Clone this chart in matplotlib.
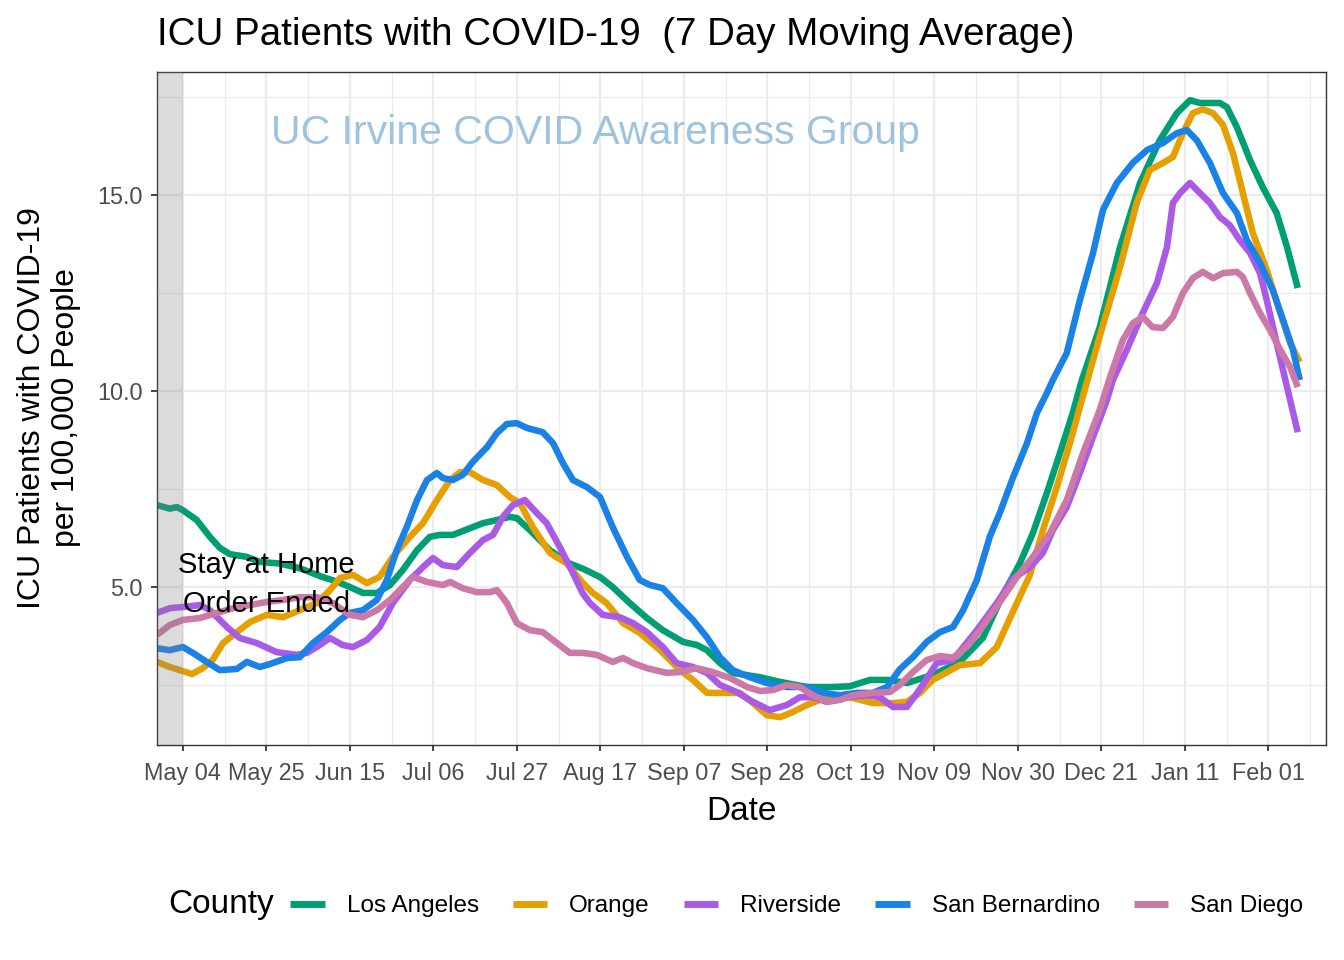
import matplotlib
matplotlib.use("Agg")
import matplotlib.pyplot as plt
from matplotlib.lines import Line2D

plt.rcParams['font.family'] = ['Liberation Sans', 'DejaVu Sans']

# x values: days since 2020-05-04
tick_days = [0, 21, 42, 63, 84, 105, 126, 147, 168, 189, 210, 231, 252, 273]
tick_labels = ["May 04", "May 25", "Jun 15", "Jul 06", "Jul 27", "Aug 17", "Sep 07",
               "Sep 28", "Oct 19", "Nov 09", "Nov 30", "Dec 21", "Jan 11", "Feb 01"]
y_ticks = [5.0, 10.0, 15.0]

counties = ["Los Angeles", "Orange", "Riverside", "San Bernardino", "San Diego"]
colors = ["#009E73", "#E69F00", "#A95BE8", "#1A82E6", "#CC79A7"]

la_days = [-6.5, -3.3, -1.5, 0, 3.5, 6.8, 9.3, 11.8, 16.1, 19.4, 24.4, 29.4, 35.0, 39.0, 42.0,
           45.3, 48.8, 52.1, 55.3, 58.9, 62.1, 64.6, 67.9, 72.2, 75.5, 79.0, 82.2, 84.0, 87.3,
           92.3, 97.3, 101.0, 105.0, 108.1, 112.4, 116.7, 120.7, 125.8, 129.3, 131.8, 135.1,
           138.3, 145.1, 150.2, 156.9, 163.5, 167.8, 172.8, 177.1, 182.1, 188.6, 195.4, 201.2,
           206.2, 210.5, 213.8, 217.3, 220.6, 223.8, 226.1, 230.6, 235.7, 240.7, 245.7, 250.0,
           253.3, 255.8, 260.8, 262.6, 265.1, 268.4, 271.6, 275.1, 277.7, 280.4]
la_vals = [7.09, 7.00, 7.04, 6.96, 6.71, 6.28, 6.00, 5.84, 5.77, 5.64, 5.60, 5.48, 5.26, 5.13, 5.00,
           4.85, 4.85, 5.05, 5.43, 5.94, 6.28, 6.33, 6.33, 6.50, 6.63, 6.71, 6.79, 6.76, 6.45,
           5.94, 5.60, 5.45, 5.25, 5.00, 4.59, 4.21, 3.90, 3.60, 3.52, 3.39, 3.06,
           2.81, 2.70, 2.58, 2.45, 2.45, 2.47, 2.63, 2.63, 2.55, 2.76, 3.09, 3.70,
           4.80, 5.60, 6.38, 7.40, 8.42, 9.44, 10.28, 11.63, 13.67, 15.30, 16.40, 17.09,
           17.42, 17.35, 17.35, 17.24, 16.73, 15.89, 15.20, 14.54, 13.67, 12.63]

or_days = [-6.5, -3.3, -0.75, 2.3, 5.0, 7.5, 10.1, 13.6, 16.9, 21.1, 25.2, 29.4, 33.7, 37.0,
           39.5, 42.8, 46.3, 49.5, 52.8, 57.1, 60.4, 63.9, 67.2, 69.7, 72.2, 75.5, 79.0, 82.2,
           84.8, 88.0, 92.3, 96.6, 100.6, 103.1, 106.6, 110.7, 114.9, 120.0, 125.0, 128.3,
           131.8, 135.8, 140.1, 143.4, 146.9, 150.2, 153.4, 156.9, 160.2, 164.5, 168.5, 173.5,
           178.6, 182.1, 185.4, 188.6, 192.2, 195.4, 200.5, 204.7, 208.8, 213.0, 216.3, 219.8,
           223.1, 226.1, 230.6, 235.7, 239.9, 243.2, 246.5, 249.0, 251.5, 254.0, 256.5, 259.1,
           261.6, 264.1, 266.6, 269.1, 272.6, 276.0, 278.5, 280.9]
or_vals = [3.09, 2.96, 2.88, 2.78, 2.93, 3.14, 3.57, 3.85, 4.11, 4.29, 4.23, 4.41, 4.59, 4.92,
           5.23, 5.31, 5.10, 5.26, 5.77, 6.28, 6.63, 7.22, 7.73, 7.93, 7.93, 7.73, 7.60, 7.30,
           7.14, 6.53, 5.87, 5.60, 5.10, 4.85, 4.59, 4.08, 3.83, 3.39, 2.88, 2.63,
           2.30, 2.30, 2.30, 2.04, 1.73, 1.68, 1.81, 1.99, 2.12, 2.19, 2.17, 2.04,
           2.04, 2.07, 2.30, 2.63, 2.83, 3.01, 3.06, 3.47, 4.38, 5.30, 6.45, 7.55,
           8.67, 9.77, 11.40, 13.16, 14.80, 15.64, 15.82, 15.97, 16.58, 17.09, 17.19, 17.09,
           16.79, 16.07, 15.05, 14.03, 13.09, 11.99, 11.22, 10.74]

rv_days = [-6.5, -3.3, 0, 4.3, 6.8, 11.1, 14.3, 18.6, 23.6, 28.7, 31.2, 33.7, 37.0, 40.2, 42.8,
           46.3, 49.5, 52.8, 57.1, 60.4, 62.9, 65.4, 68.9, 72.2, 75.5, 78.0, 80.5, 83.0, 86.0,
           89.0, 91.5, 94.8, 98.1, 100.5, 102.4, 105.6, 109.9, 113.2, 116.7, 120.7, 124.2,
           128.3, 131.8, 135.1, 139.3, 143.4, 147.6, 151.9, 155.2, 158.4, 162.0, 167.0, 172.0,
           175.3, 178.6, 182.1, 185.4, 189.6, 193.7, 199.7, 204.7, 208.8, 213.0, 216.3, 218.8,
           222.3, 225.6, 228.9, 232.4, 233.9, 237.4, 241.4, 245.0, 247.5, 249.0, 250.8, 253.3,
           255.8, 258.3, 260.8, 263.3, 265.8, 268.4, 270.9, 272.6, 275.1, 277.7, 280.4]
rv_vals = [4.34, 4.46, 4.49, 4.54, 4.41, 3.98, 3.70, 3.57, 3.34, 3.27, 3.32, 3.47, 3.70, 3.52, 3.47,
           3.65, 3.98, 4.59, 5.18, 5.51, 5.74, 5.56, 5.51, 5.87, 6.20, 6.33, 6.79, 7.09, 7.22,
           6.89, 6.63, 6.02, 5.36, 4.85, 4.59, 4.29, 4.23, 4.08, 3.85, 3.47, 3.06,
           2.96, 2.81, 2.50, 2.32, 2.07, 1.86, 1.99, 2.19, 2.19, 2.07, 2.19, 2.24,
           2.19, 1.94, 1.94, 2.40, 3.06, 3.14, 3.90, 4.59, 5.22, 5.50, 5.87, 6.45,
           7.04, 7.91, 8.83, 9.77, 10.28, 11.05, 11.99, 12.76, 13.67, 14.80, 15.05, 15.31,
           15.05, 14.80, 14.44, 14.23, 13.85, 13.52, 13.01, 12.32, 11.22, 10.10, 8.95]

sb_days = [-6.5, -3.3, 0, 2.5, 6.0, 9.3, 13.6, 16.1, 19.4, 22.6, 26.2, 29.4, 32.7, 36.2, 39.5,
           42.0, 45.3, 48.8, 51.3, 53.8, 56.3, 58.9, 61.4, 63.9, 65.4, 67.9, 70.4, 72.9, 76.5,
           79.0, 81.5, 84.0, 86.5, 90.5, 93.1, 95.6, 98.1, 101.6, 104.9, 108.1, 111.7, 114.9,
           117.5, 120.7, 124.2, 128.3, 131.8, 135.1, 138.3, 142.6, 146.9, 151.9, 156.9, 161.0,
           165.3, 169.5, 173.5, 177.1, 180.3, 183.6, 187.1, 190.4, 193.7, 196.2, 199.7, 203.0,
           205.5, 208.8, 212.3, 214.8, 217.3, 218.8, 222.3, 225.6, 228.9, 231.4, 234.9, 238.9,
           242.5, 246.5, 250.0, 252.5, 255.0, 258.3, 261.6, 265.1, 267.6, 270.9, 274.1, 276.7,
           279.2, 280.9]
sb_vals = [3.44, 3.39, 3.47, 3.32, 3.09, 2.88, 2.91, 3.09, 2.96, 3.06, 3.19, 3.21, 3.57, 3.85, 4.16,
           4.34, 4.41, 4.67, 5.18, 5.94, 6.53, 7.22, 7.73, 7.91, 7.78, 7.73, 7.86, 8.19, 8.57,
           8.93, 9.16, 9.18, 9.06, 8.95, 8.67, 8.16, 7.73, 7.55, 7.30, 6.53, 5.77, 5.18,
           5.05, 4.97, 4.59, 4.16, 3.72, 3.21, 2.88, 2.70, 2.55, 2.45, 2.45, 2.30,
           2.24, 2.30, 2.30, 2.45, 2.90, 3.21, 3.60, 3.85, 3.98, 4.40, 5.18, 6.30,
           6.90, 7.80, 8.67, 9.44, 9.95, 10.28, 10.97, 12.32, 13.52, 14.62, 15.31, 15.82,
           16.15, 16.33, 16.58, 16.66, 16.40, 15.82, 15.05, 14.54, 13.85, 13.27, 12.58, 11.81,
           11.05, 10.28]

sd_days = [-6.5, -3.3, 0, 4.3, 8.6, 12.6, 16.9, 21.1, 25.2, 29.4, 33.7, 37.7, 42.0, 45.3, 48.8,
           52.1, 55.3, 57.8, 61.4, 65.4, 67.2, 70.4, 73.9, 77.2, 79.0, 81.5, 84.0, 87.3, 90.5,
           94.1, 97.3, 100.6, 104.1, 108.1, 110.7, 113.2, 116.7, 121.7, 125.0, 129.3, 133.3,
           137.6, 141.9, 145.1, 148.4, 151.9, 155.2, 158.4, 162.0, 165.3, 168.5, 173.5, 177.8,
           180.3, 183.6, 187.1, 190.4, 193.7, 197.2, 200.5, 204.7, 209.8, 213.8, 218.1, 222.3,
           226.4, 230.6, 233.2, 236.4, 238.9, 241.4, 243.9, 246.5, 249.0, 251.5, 254.0, 256.5,
           259.1, 261.6, 265.1, 266.6, 268.4, 270.9, 273.4, 276.0, 278.5, 280.4]
sd_vals = [3.78, 4.03, 4.16, 4.21, 4.34, 4.46, 4.54, 4.62, 4.67, 4.74, 4.74, 4.59, 4.29, 4.23, 4.41,
           4.67, 5.00, 5.26, 5.13, 5.05, 5.13, 4.97, 4.87, 4.87, 4.92, 4.59, 4.08, 3.90, 3.85,
           3.57, 3.32, 3.32, 3.27, 3.09, 3.19, 3.06, 2.93, 2.81, 2.83, 2.93, 2.83,
           2.68, 2.45, 2.35, 2.37, 2.50, 2.45, 2.24, 2.07, 2.12, 2.24, 2.30, 2.32,
           2.50, 2.83, 3.14, 3.24, 3.20, 3.48, 3.90, 4.50, 5.26, 5.77, 6.38, 7.22,
           8.42, 9.52, 10.36, 11.30, 11.73, 11.89, 11.63, 11.61, 11.89, 12.50, 12.88, 13.04,
           12.88, 13.01, 13.04, 12.91, 12.50, 11.99, 11.56, 11.05, 10.61, 10.10]

series_days = [la_days, or_days, rv_days, sb_days, sd_days]
series_vals = [la_vals, or_vals, rv_vals, sb_vals, sd_vals]

W, H = 1344, 960
fig = plt.figure(figsize=(W / 100, H / 100), dpi=100)
ax = fig.add_axes([157 / W, 1 - 745 / H, (1326 - 157) / W, (745 - 72) / H])

grid_c = "#EBEBEB"
for y in [2.5, 7.5, 12.5, 17.5]:
    ax.axhline(y, color=grid_c, lw=0.9, zorder=0)
for y in y_ticks:
    ax.axhline(y, color=grid_c, lw=1.6, zorder=0)
for i in range(len(tick_days)):
    ax.axvline(tick_days[i], color=grid_c, lw=1.6, zorder=0)
    ax.axvline(tick_days[i] + 10.5, color=grid_c, lw=0.9, zorder=0)

for name, c, dd, vv in zip(counties, colors, series_days, series_vals):
    ax.plot(dd, vv, color=c, lw=4.7, solid_capstyle='butt', solid_joinstyle='round', zorder=2, label=name)

ax.axvspan(-20, 0, color="#808080", alpha=0.28, lw=0, zorder=3)

ax.text(21, 5.07, "Stay at Home\nOrder Ended", ha='center', va='center', fontsize=21,
        linespacing=1.5, color='black', zorder=4)
ax.text(103.7, 16.58, "UC Irvine COVID Awareness Group", ha='center', va='center',
        fontsize=29.5, color="#9DC3DE", zorder=1)

ax.set_xlim(-6.5, 287.5)
ax.set_ylim(0.97, 18.14)
ax.set_xticks(tick_days)
ax.set_xticklabels(tick_labels)
ax.set_yticks(y_ticks)
ax.set_yticklabels([f"{v:.1f}" for v in y_ticks])
ax.tick_params(axis='both', length=4, width=1.3, color="#333333", labelcolor="#4D4D4D",
               labelsize=16.8)
ax.tick_params(axis='x', pad=8.5)
ax.tick_params(axis='y', pad=6.5)
for s in ax.spines.values():
    s.set_color("#333333")
    s.set_linewidth(1.0)
ax.set_facecolor('white')

ax.set_xlabel("Date", fontsize=24, labelpad=8)
fig.text(49 / W, 1 - 408 / H, "ICU Patients with COVID-19\nper 100,000 People", rotation=90,
         ha='center', va='center', fontsize=23, linespacing=1.15)
fig.text(157 / W, 1 - 35 / H, "ICU Patients with COVID-19  (7 Day Moving Average)",
         ha='left', va='center', fontsize=27.7)

fig.text(168 / W, 1 - 905 / H, "County", ha='left', va='center', fontsize=24)
handles = [Line2D([0], [0], color=c, lw=5, solid_capstyle='butt') for c in colors]
fig.legend(handles, counties, loc='center left', bbox_to_anchor=(290 / W, 1 - 906 / H),
           ncol=5, frameon=False, fontsize=17.5, handlelength=1.43, handletextpad=0.9,
           columnspacing=1.39, borderpad=0, borderaxespad=0)

fig.savefig("out.png", dpi=100, facecolor='white')
